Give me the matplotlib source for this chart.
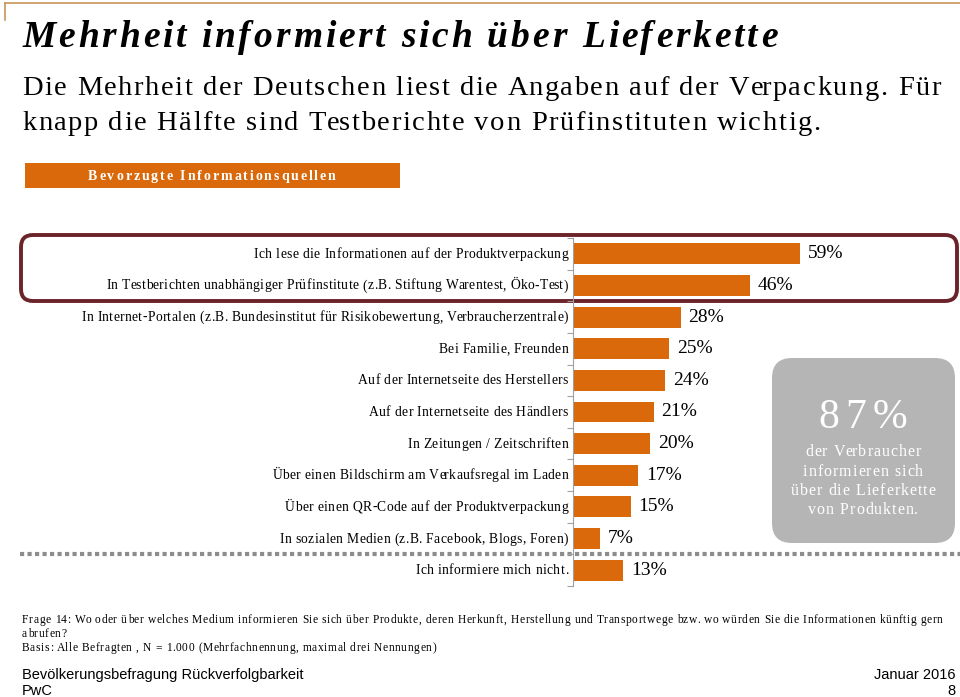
import matplotlib.pyplot as plt
from matplotlib.patches import FancyBboxPatch, Rectangle

# Daten
kategorien = [
    "Ich lese die Informationen auf der Produktverpackung",
    "In Testberichten unabhängiger Prüfinstitute (z.B. Stiftung Warentest, Öko-Test)",
    "In Internet-Portalen (z.B. Bundesinstitut für Risikobewertung, Verbraucherzentrale)",
    "Bei Familie, Freunden",
    "Auf der Internetseite des Herstellers",
    "Auf der Internetseite des Händlers",
    "In Zeitungen / Zeitschriften",
    "Über einen Bildschirm am Verkaufsregal im Laden",
    "Über einen QR-Code auf der Produktverpackung",
    "In sozialen Medien (z.B. Facebook, Blogs, Foren)",
    "Ich informiere mich nicht.",
]
werte = [59, 46, 28, 25, 24, 21, 20, 17, 15, 7, 13]

titel = "Mehrheit informiert sich über Lieferkette"
untertitel = ["Die Mehrheit der Deutschen liest die Angaben auf der Verpackung. Für",
              "knapp die Hälfte sind Testberichte von Prüfinstituten wichtig."]
kasten_titel = "Bevorzugte Informationsquellen"
kasten_zahl = "87%"
kasten_text = ["der Verbraucher", "informieren sich", "über die Lieferkette", "von Produkten."]
fussnoten = [
    "Frage 14: Wo oder über welches Medium informieren Sie sich über Produkte, deren Herkunft, "
    "Herstellung und Transportwege bzw. wo würden Sie die Informationen künftig gern",
    "abrufen?",
    "Basis: Alle Befragten , N = 1.000 (Mehrfachnennung, maximal drei Nennungen)",
]

ORANGE = '#d9690b'
DUNKELROT = '#6b2429'
GRAU = '#b5b5b5'
SERIF = 'Liberation Serif'
SANS = 'Liberation Sans'

W, H = 960, 697
fig = plt.figure(figsize=(W / 100, H / 100), dpi=100)
renderer = fig.canvas.get_renderer()

# Hintergrund-Achse in Pixelkoordinaten fuer Rahmen und Texte
bg = fig.add_axes([0, 0, 1, 1], zorder=0)
bg.set_xlim(0, W)
bg.set_ylim(H, 0)
bg.axis('off')


def breite(s, **kw):
    t = bg.text(0, 0, s, **kw)
    w = t.get_window_extent(renderer).width
    t.remove()
    return w


# Text mit Sperrung (zusaetzlicher Abstand je Zeichen in Pixel), y = Grundlinie
def gesperrt(x, y, s, extra, ha='left', **kw):
    ref = breite('x', **kw)
    offs = [0] + [breite(s[:i] + 'x', **kw) - ref for i in range(1, len(s))]
    total = breite(s, **kw) + extra * (len(s) - 1)
    if ha == 'right':
        x = x - total
    elif ha == 'center':
        x = x - total / 2
    for i, ch in enumerate(s):
        if ch != ' ':
            bg.text(x + offs[i] + extra * i, y, ch, ha='left', va='baseline', **kw)


# obere Linie
bg.plot([5, W], [3, 3], color='#c8955a', lw=1.2)
bg.plot([5, 5], [3, 20], color='#c8955a', lw=1.2)

gesperrt(22, 47, titel, 2.9, fontsize=27, fontfamily=SERIF, fontweight='bold',
         fontstyle='italic')
gesperrt(22, 95, untertitel[0], 1.6, fontsize=20.5, fontfamily=SERIF)
gesperrt(22, 130, untertitel[1], 1.6, fontsize=20.5, fontfamily=SERIF)

bg.add_patch(Rectangle((25, 163), 375, 25, color=ORANGE, lw=0))
gesperrt(212, 180, kasten_titel, 1.9, ha='center', fontsize=10, fontfamily=SERIF,
         fontweight='bold', color='white')

# Rahmen um die ersten beiden Balken
bg.add_patch(FancyBboxPatch((21, 235), 936, 66, boxstyle='round,pad=0,rounding_size=12',
                            fill=False, ec=DUNKELROT, lw=2.8))

# gepunktete Trennlinie
bg.plot([20, W], [554, 554], color='#8c8c8c', lw=3, ls=(0, (1, 0.8)))

# grauer Kasten
bg.add_patch(FancyBboxPatch((772, 358), 183, 185, boxstyle='round,pad=0,rounding_size=20',
                            fc=GRAU, ec='none'))
gesperrt(863, 428, kasten_zahl, 6, ha='center', fontsize=30, fontfamily=SERIF, color='white')
for i, zeile in enumerate(kasten_text):
    gesperrt(863, 456 + i * 19.5, zeile, 1.0, ha='center', fontsize=11.5,
             fontfamily=SERIF, color='white')

for i, zeile in enumerate(fussnoten):
    gesperrt(22, 623 + i * 14, zeile, 0.6, fontsize=8.3, fontfamily=SERIF)

bg.text(22, 675, "Bevölkerungsbefragung Rückverfolgbarkeit", fontsize=10.5, fontfamily=SANS,
        ha='left', va='center')
bg.text(22, 691, "PwC", fontsize=10.5, fontfamily=SANS, ha='left', va='center')
bg.text(956, 675, "Januar 2016", fontsize=10.5, fontfamily=SANS, ha='right', va='center')
bg.text(956, 691, "8", fontsize=10.5, fontfamily=SANS, ha='right', va='center')

# Balkendiagramm
x0, y_top, y_bot = 573, 238, 586
ax = fig.add_axes([x0 / W, 1 - y_bot / H, 385 / W, (y_bot - y_top) / H], zorder=1)
ax.patch.set_alpha(0)
pos = list(range(len(kategorien)))
ax.barh(pos, werte, height=0.66, color=ORANGE)
ax.set_xlim(0, 100)
ax.set_ylim(len(kategorien) - 0.5, -0.5)
ax.set_yticks([p - 0.5 for p in pos] + [len(pos) - 0.5])
ax.set_yticklabels([])
ax.tick_params(axis='y', length=4, color='#a0a0a0', width=0.8)
ax.set_xticks([])
for s in ['top', 'right', 'bottom']:
    ax.spines[s].set_visible(False)
ax.spines['left'].set_color('#a0a0a0')
ax.spines['left'].set_linewidth(0.8)

for p, v in zip(pos, werte):
    ax.text(v + 2, p, f"{v}%", fontsize=14, fontfamily=SERIF, va='center', ha='left')

# Kategorienbeschriftung leicht gesperrt, Hoehe aus der Achsentransformation
for p, k in zip(pos, kategorien):
    y_px = H - ax.transData.transform((0, p))[1]
    gesperrt(568, y_px + 4, k, 0.35, ha='right', fontsize=9.8, fontfamily=SERIF)

fig.savefig('out.png', dpi=100)
